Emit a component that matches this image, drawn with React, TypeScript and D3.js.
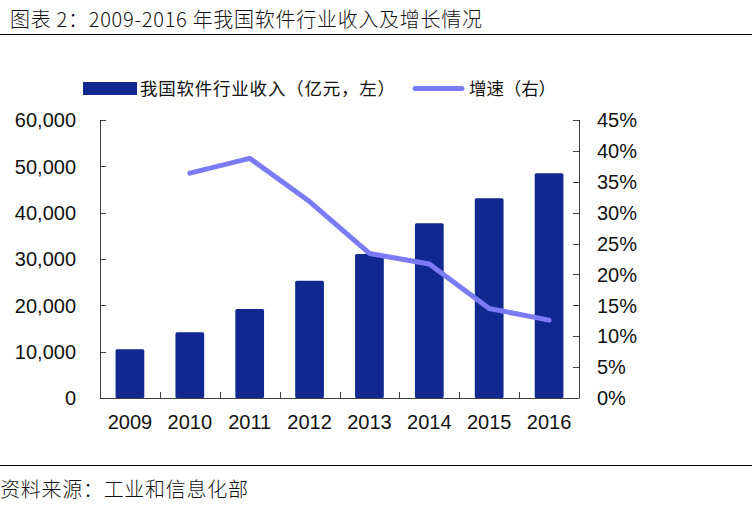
import * as d3 from "d3";
import { useEffect, useRef } from "react";

const years = ["2009", "2010", "2011", "2012", "2013", "2014", "2015", "2016"];
const revenue = [10500, 14200, 19200, 25300, 31100, 37700, 43100, 48500];
const growth = [null, 36.4, 38.8, 31.8, 23.4, 21.7, 14.5, 12.6];
const leftTicks = [0, 10000, 20000, 30000, 40000, 50000, 60000];
const rightTicks = [0, 5, 10, 15, 20, 25, 30, 35, 40, 45];

const title = "图表 2：2009-2016 年我国软件行业收入及增长情况";
const source = "资料来源：工业和信息化部";
const barLabel = "我国软件行业收入（亿元，左）";
const lineLabel = "增速（右）";

const W = 752;
const H = 506;
const BAR = "#10288f";
const LINE = "#7b7bf5";
const CJK = "'Noto Sans CJK SC', sans-serif";
const NUM = "'Liberation Sans', Arial, sans-serif";

const App = () => {
  const ref = useRef<SVGSVGElement>(null);

  useEffect(() => {
    const svg = d3.select(ref.current);
    svg.selectAll("*").remove();

    const left = 100;
    const right = 579;
    const top = 120;
    const bottom = 398;

    const x = d3.scaleBand().domain(years).range([left, right]).paddingInner(0.52).paddingOuter(0.26);
    const step = (right - left) / years.length;
    const yL = d3.scaleLinear().domain([0, 60000]).range([bottom, top]);
    const yR = d3.scaleLinear().domain([0, 45]).range([bottom, top]);

    // title + rules
    svg.append("text").attr("x", 10).attr("y", 27).attr("font-family", CJK).attr("font-weight", 300)
      .attr("font-size", 20).attr("fill", "#111")
      .attr("textLength", 472).attr("lengthAdjust", "spacing").text(title);
    svg.append("line").attr("x1", 0).attr("x2", W).attr("y1", 34.5).attr("y2", 34.5).attr("stroke", "#000").attr("stroke-width", 1.2);
    svg.append("line").attr("x1", 0).attr("x2", W).attr("y1", 465.5).attr("y2", 465.5).attr("stroke", "#000").attr("stroke-width", 1.2);
    svg.append("text").attr("x", 0).attr("y", 497).attr("font-family", CJK).attr("font-weight", 300)
      .attr("font-size", 20).attr("fill", "#111")
      .attr("textLength", 248).attr("lengthAdjust", "spacing").text(source);

    // legend
    svg.append("rect").attr("x", 83).attr("y", 82).attr("width", 54).attr("height", 13).attr("fill", BAR);
    svg.append("text").attr("x", 140).attr("y", 94.5).attr("font-family", CJK).attr("font-size", 17.5)
      .attr("fill", "#111").attr("textLength", 255).attr("lengthAdjust", "spacing").text(barLabel);
    svg.append("line").attr("x1", 415).attr("x2", 462).attr("y1", 88.5).attr("y2", 88.5)
      .attr("stroke", LINE).attr("stroke-width", 5).attr("stroke-linecap", "round");
    svg.append("text").attr("x", 469).attr("y", 94.5).attr("font-family", CJK).attr("font-size", 17.5)
      .attr("fill", "#111").attr("textLength", 87).attr("lengthAdjust", "spacing").text(lineLabel);

    // bars
    svg.append("g").selectAll("rect").data(revenue).join("rect")
      .attr("x", (_, i) => x(years[i])!)
      .attr("width", x.bandwidth())
      .attr("y", (d) => yL(d))
      .attr("height", (d) => bottom - yL(d))
      .attr("rx", 1.5)
      .attr("fill", BAR);

    // axes
    const axisColor = "#404040";
    const gl = svg.append("g");
    gl.append("line").attr("x1", left + 0.5).attr("x2", left + 0.5).attr("y1", top).attr("y2", bottom).attr("stroke", axisColor);
    gl.selectAll("line.t").data(leftTicks).join("line").attr("class", "t")
      .attr("x1", left).attr("x2", left + 6).attr("y1", (d) => Math.round(yL(d)) + 0.5).attr("y2", (d) => Math.round(yL(d)) + 0.5)
      .attr("stroke", axisColor);
    gl.selectAll("text").data(leftTicks).join("text")
      .attr("x", 76).attr("y", (d) => yL(d)).attr("dy", "0.36em").attr("text-anchor", "end")
      .attr("font-family", NUM).attr("font-size", 20).attr("fill", "#111")
      .text((d) => d3.format(",")(d));

    const gr = svg.append("g");
    gr.append("line").attr("x1", right + 0.5).attr("x2", right + 0.5).attr("y1", top).attr("y2", bottom).attr("stroke", axisColor);
    gr.selectAll("line.t").data(rightTicks).join("line").attr("class", "t")
      .attr("x1", right - 6).attr("x2", right).attr("y1", (d) => Math.round(yR(d)) + 0.5).attr("y2", (d) => Math.round(yR(d)) + 0.5)
      .attr("stroke", axisColor);
    gr.selectAll("text").data(rightTicks).join("text")
      .attr("x", 597).attr("y", (d) => yR(d)).attr("dy", "0.36em")
      .attr("font-family", NUM).attr("font-size", 20).attr("fill", "#111")
      .text((d) => `${d}%`);

    const gx = svg.append("g");
    gx.append("line").attr("x1", left).attr("x2", right + 0.5).attr("y1", bottom + 0.5).attr("y2", bottom + 0.5).attr("stroke", axisColor);
    gx.selectAll("line.t").data(d3.range(1, years.length)).join("line").attr("class", "t")
      .attr("x1", (i) => Math.round(left + i * step) + 0.5).attr("x2", (i) => Math.round(left + i * step) + 0.5)
      .attr("y1", bottom - 6).attr("y2", bottom).attr("stroke", axisColor);
    gx.selectAll("text").data(years).join("text")
      .attr("x", (d) => x(d)! + x.bandwidth() / 2).attr("y", 429).attr("text-anchor", "middle")
      .attr("font-family", NUM).attr("font-size", 20).attr("fill", "#111")
      .text((d) => d);

    // growth line
    const line = d3.line<number | null>()
      .defined((d) => d !== null)
      .x((_, i) => x(years[i])! + x.bandwidth() / 2)
      .y((d) => yR(d as number));
    svg.append("path").datum(growth).attr("d", line)
      .attr("fill", "none").attr("stroke", LINE).attr("stroke-width", 5)
      .attr("stroke-linejoin", "round").attr("stroke-linecap", "round");
  }, []);

  return (
    <svg ref={ref} width={W} height={H} style={{ position: "absolute", left: 0, top: 0, background: "#fff" }} />
  );
};

export default App;
